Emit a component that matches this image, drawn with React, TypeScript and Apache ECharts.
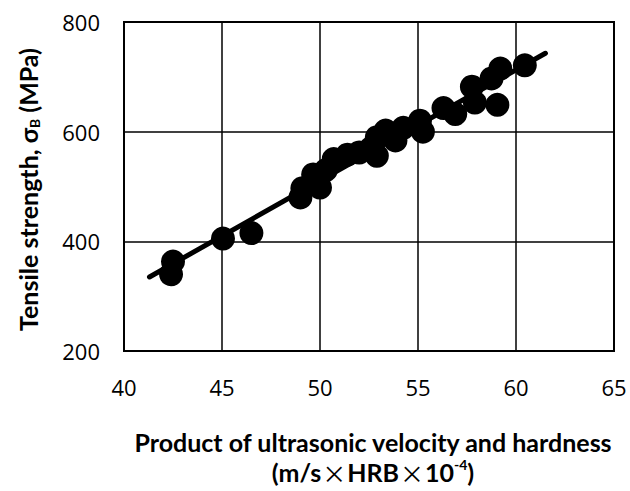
import React, { useEffect, useRef } from "react";
import * as echarts from "echarts";

const xValues = [42.4, 42.5, 45.05, 46.5, 49.0, 49.1, 49.65, 50.0, 50.3, 50.7, 51.4, 52.0, 52.6, 52.9, 52.9, 53.35, 53.85, 54.25, 55.1, 55.25, 56.3, 56.9, 57.75, 57.9, 58.75, 59.2, 59.05, 60.45];
const yValues = [340, 363, 405, 415, 480, 497, 522, 498, 530, 550, 558, 562, 570, 556, 590, 602, 584, 607, 620, 600, 643, 632, 682, 653, 697, 715, 649, 721];
const fitX = [41.3, 61.5];
const fitY = [335, 743];
const xTicks = [40, 45, 50, 55, 60, 65];
const yTicks = [200, 400, 600, 800];

const titleFont = "Lato, Open Sans, sans-serif";
const tickFont = "Open Sans, Liberation Sans, sans-serif";

export default function App() {
  const ref = useRef<HTMLDivElement>(null);
  useEffect(() => {
    if (!ref.current) return;
    const chart = echarts.init(ref.current, undefined, { renderer: "svg" });
    const scatter = xValues.map((x, i) => [x, yValues[i]]);
    const fit = fitX.map((x, i) => [x, fitY[i]]);
    chart.setOption({
      animation: false,
      backgroundColor: "#fff",
      grid: {
        left: 124,
        right: 16,
        top: 22,
        bottom: 140,
        show: true,
        borderColor: "#000",
        borderWidth: 2,
        outerBoundsMode: "none",
        containLabel: false,
      },
      xAxis: {
        type: "value",
        min: xTicks[0],
        max: xTicks[xTicks.length - 1],
        interval: 5,
        axisLine: { show: true, lineStyle: { color: "#000", width: 2 } },
        axisTick: { show: false },
        splitLine: { show: true, lineStyle: { color: "#000", width: 1.5 } },
        axisLabel: {
          color: "#000",
          fontSize: 22,
          fontFamily: tickFont,
          margin: 25,
        },
        name: "Product of ultrasonic velocity and hardness\n(m/s{x|×}HRB{x|×}10{sup|-4})",
        nameLocation: "middle",
        nameGap: 76,
        nameTextStyle: {
          color: "#000",
          fontSize: 25,
          fontWeight: "bold",
          fontFamily: titleFont,
          lineHeight: 30,
          padding: [0, 0, 0, 8],
          rich: {
            x: {
              fontSize: 24,
              fontWeight: "normal",
              fontFamily: "Noto Sans CJK JP, DejaVu Sans, sans-serif",
              color: "#000",
              lineHeight: 30,
              padding: [0, 1, 0, 1],
            },
            sup: {
              fontSize: 14,
              fontWeight: "bold",
              fontFamily: titleFont,
              color: "#000",
              verticalAlign: "top",
              padding: [0, 0, 12, 0],
            },
          },
        },
      },
      yAxis: {
        type: "value",
        min: yTicks[0],
        max: yTicks[yTicks.length - 1],
        interval: 200,
        axisLine: { show: true, lineStyle: { color: "#000", width: 2 } },
        axisTick: { show: false },
        splitLine: { show: true, lineStyle: { color: "#000", width: 1.5 } },
        axisLabel: {
          color: "#000",
          fontSize: 22,
          fontFamily: tickFont,
          margin: 24,
        },
        name: "Tensile strength, σ{sub|B} (MPa)",
        nameLocation: "middle",
        nameGap: 83,
        nameRotate: 90,
        nameTextStyle: {
          color: "#000",
          fontSize: 25,
          fontWeight: "bold",
          fontFamily: titleFont,
          padding: [0, 6, 0, 0],
          rich: {
            sub: {
              fontSize: 14,
              fontWeight: "bold",
              fontFamily: titleFont,
              color: "#000",
              verticalAlign: "bottom",
              padding: [12, 0, 0, 0],
            },
          },
        },
      },
      series: [
        {
          type: "line",
          data: fit,
          symbol: "none",
          lineStyle: { color: "#000", width: 5, cap: "round" },
          z: 2,
        },
        {
          type: "scatter",
          data: scatter,
          symbol: "circle",
          symbolSize: 24,
          itemStyle: { color: "#000", opacity: 1 },
          z: 3,
        },
      ],
    });
    return () => chart.dispose();
  }, []);
  return (
    <div
      ref={ref}
      style={{ position: "absolute", left: 0, top: 0, width: 630, height: 491 }}
    />
  );
}
